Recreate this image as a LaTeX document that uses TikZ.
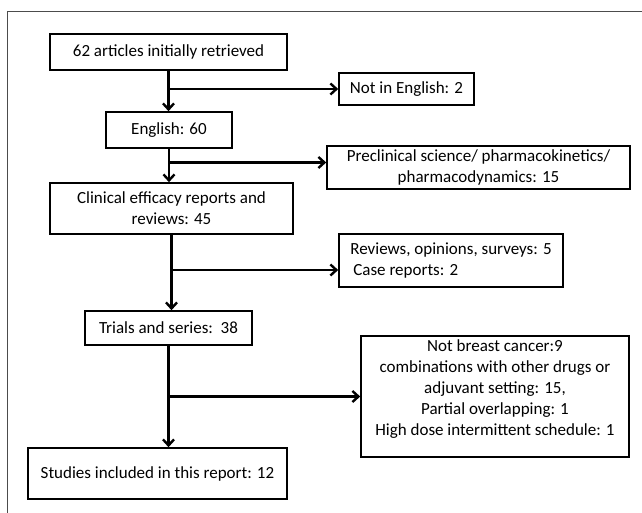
\documentclass[tikz,border=0pt]{standalone}
\usepackage{fontspec}
\setmainfont{Carlito}
\usetikzlibrary{arrows.meta}

\begin{document}
\begin{tikzpicture}[x=1pt,y=-1pt,
    box/.style={draw,line width=1.6pt,inner sep=0pt,align=center,
      font=\fontsize{17}{21}\selectfont},
    arr/.style={line width=2.4pt,-{Straight Barb[length=6pt,width=11pt]}}]
  \useasboundingbox (0,0) rectangle (642,513);
  \draw[gray!60!black,line width=0.8pt] (7,513) -- (7,11) -- (642,11);

  % main column
  \node[box,minimum width=237pt,minimum height=36pt] (start) at (168.5,52)
    {62 articles initially retrieved};
  \node[box,minimum width=126pt,minimum height=36pt] (eng) at (169,130)
    {English: 60};
  \node[box,minimum width=243pt,minimum height=51pt] (clin) at (171.5,208.5)
    {Clinical efficacy reports and\\ reviews: 45};
  \node[box,minimum width=167pt,minimum height=34pt] (trials) at (168.5,328)
    {Trials and series:\ \ 38};
  \node[box,minimum width=259pt,minimum height=51pt] (incl) at (157.5,473.5)
    {Studies included in this report: 12};

  % excluded
  \node[box,minimum width=135pt,minimum height=32pt] (notEng) at (406.5,89)
    {Not in English: 2};
  \node[box,minimum width=303pt,minimum height=43pt] (precl) at (478.5,167.5)
    {Preclinical science/ pharmacokinetics/\\ pharmacodynamics: 15};
  \node[box,minimum width=224pt,minimum height=53pt,align=left] (rev) at (451,260.5)
    {Reviews, opinions, surveys: 5\\ \hspace{3pt}Case reports: 2};
  \node[box,minimum width=268pt,minimum height=121pt] (other) at (495,396.5)
    {Not breast cancer:9\\ combinations with other drugs or\\ adjuvant setting: 15,\\
     Partial overlapping: 1\\ High dose intermittent schedule: 1\\[-4pt]\mbox{}};

  \draw[arr] (start.south) -- (start.south |- eng.north);
  \draw[arr] (start.south |- notEng.west) -- (notEng.west);
  \draw[arr] (eng.south) -- (eng.south |- clin.north);
  \draw[arr] ([yshift=5pt]eng.south |- precl.west) -- ([yshift=5pt]precl.west);
  \draw[arr] (clin.south) -- (clin.south |- trials.north);
  \draw[arr] ([yshift=-9.5pt]clin.south |- rev.west) -- ([yshift=-9.5pt]rev.west);
  \draw[arr] (trials.south) -- (trials.south |- incl.north);
  \draw[arr] (trials.south |- other.west) -- (other.west);
\end{tikzpicture}
\end{document}
